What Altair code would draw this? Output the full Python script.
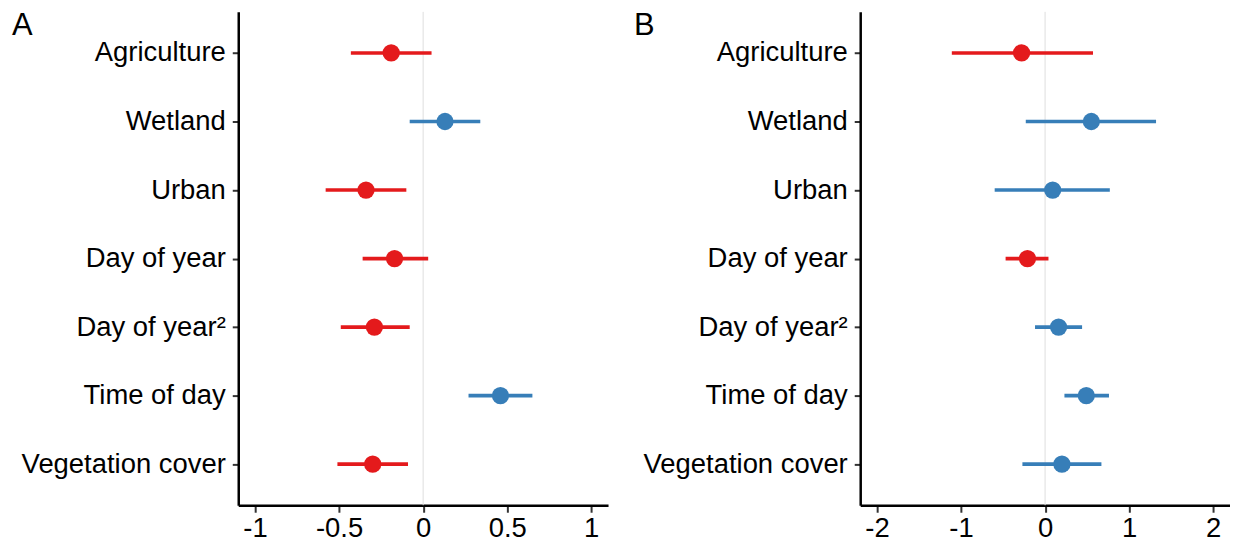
import altair as alt
import pandas as pd

categories = ["Agriculture", "Wetland", "Urban", "Day of year", "Day of year²",
              "Time of day", "Vegetation cover"]

a_est = [-0.19, 0.13, -0.34, -0.17, -0.29, 0.46, -0.30]
a_lo = [-0.43, -0.08, -0.58, -0.36, -0.49, 0.27, -0.51]
a_hi = [0.05, 0.34, -0.10, 0.03, -0.08, 0.65, -0.09]

b_est = [-0.28, 0.55, 0.09, -0.21, 0.16, 0.49, 0.20]
b_lo = [-1.11, -0.23, -0.60, -0.47, -0.12, 0.23, -0.27]
b_hi = [0.57, 1.32, 0.77, 0.04, 0.44, 0.76, 0.67]

a_ticks = [-1, -0.5, 0, 0.5, 1]
b_ticks = [-2, -1, 0, 1, 2]

RED = "#E41A1C"
BLUE = "#377EB8"
FONT = "Liberation Sans"
FS = 27.5


def frame(est, lo, hi):
    return pd.DataFrame({
        "term": categories,
        "est": est,
        "lo": lo,
        "hi": hi,
        "sign": ["neg" if v < 0 else "pos" for v in est],
    })


def panel(df, domain, ticks, tag):
    xscale = alt.Scale(domain=domain, nice=False, zero=False)
    yscale = alt.Scale(type="point", padding=0.6)
    color = alt.Color("sign:N", scale=alt.Scale(domain=["neg", "pos"], range=[RED, BLUE]), legend=None)
    xaxis = alt.Axis(values=ticks, labelExpr="'' + datum.value", title=None, grid=False,
                     domainColor="black", domainWidth=2.5, tickColor="#333333", tickWidth=2,
                     tickSize=7, labelFont=FONT, labelFontSize=FS, labelColor="black",
                     labelPadding=2, labelLimit=0)
    yaxis = alt.Axis(title=None, grid=False, domainColor="black", domainWidth=2.5,
                     tickColor="#333333", tickWidth=2, tickSize=6, labelFont=FONT,
                     labelFontSize=FS, labelColor="black", labelPadding=7, labelLimit=0)
    base = alt.Chart(df)
    zero = alt.Chart(pd.DataFrame({"z": [0]})).mark_rule(color="#DEDEDE", strokeWidth=1).encode(
        x=alt.X("z:Q", scale=xscale, axis=xaxis)
    )
    bars = base.mark_rule(strokeWidth=3.7).encode(
        x=alt.X("lo:Q", scale=xscale, axis=xaxis),
        x2="hi:Q",
        y=alt.Y("term:N", sort=categories, scale=yscale, axis=yaxis),
        color=color,
    )
    pts = base.mark_circle(size=300, opacity=1).encode(
        x=alt.X("est:Q", scale=xscale, axis=xaxis),
        y=alt.Y("term:N", sort=categories, scale=yscale, axis=yaxis),
        color=color,
    )
    label = alt.Chart(pd.DataFrame({"t": [tag]})).mark_text(
        font=FONT, fontSize=31, align="left", baseline="top", color="black"
    ).encode(x=alt.value(-227), y=alt.value(-1), text="t:N")
    return alt.layer(zero, bars, pts, label).properties(width=371, height=495)


pa = panel(frame(a_est, a_lo, a_hi), [-1.1, 1.1], a_ticks, "A")
pb = panel(frame(b_est, b_lo, b_hi), [-2.2, 2.2], b_ticks, "B")

chart = alt.hconcat(pa, pb, spacing=26).resolve_scale(x="independent", color="shared").properties(
    padding={"left": 4, "top": 1, "right": 0, "bottom": 0}
).configure_view(stroke=None)

chart.save("out.html", embed_options={"renderer": "svg", "actions": False})
